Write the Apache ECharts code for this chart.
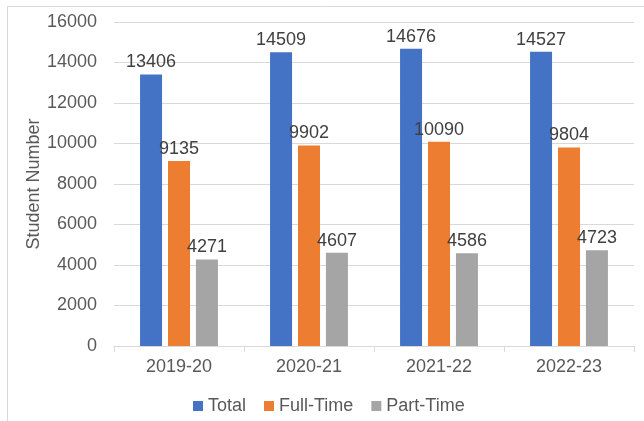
<!DOCTYPE html>
<html><head><meta charset="utf-8">
<script src="https://cdn.jsdelivr.net/npm/echarts@6/dist/echarts.min.js"></script>
<style>html,body{margin:0;padding:0;background:#fff}#c{width:644px;height:421px}</style>
</head><body><div id="c"></div>
<script>
const categories = ["2019-20", "2020-21", "2021-22", "2022-23"];
const totalValues = [13406, 14509, 14676, 14527];
const fullTimeValues = [9135, 9902, 10090, 9804];
const partTimeValues = [4271, 4607, 4586, 4723];
const seriesNames = ["Total", "Full-Time", "Part-Time"];
const yTicks = { min: 0, max: 16000, interval: 2000 };

const chart = echarts.init(document.getElementById('c'), null, { renderer: 'canvas' });
const font = 'Liberation Sans, Arial, sans-serif';
const txt = '#595959';
function mk(name, data, color) {
  return {
    name, type: 'bar', data, barWidth: 22, barGap: '27%',
    itemStyle: { color },
    label: { show: true, position: 'top', distance: 3, color: '#404040', fontSize: 18, fontFamily: font },
    emphasis: { disabled: true }
  };
}
chart.setOption({
  animation: false,
  textStyle: { fontFamily: font },
  graphic: [{
    type: 'polyline', silent: true,
    shape: { points: [[7.5, 421], [7.5, 6.5], [644, 6.5]] },
    style: { stroke: '#D9D9D9', lineWidth: 1, fill: null }
  }],
  grid: { left: 114, right: 10, top: 22, bottom: 75, containLabel: false },
  legend: {
    data: seriesNames, left: 188, top: 392, itemWidth: 10, itemHeight: 10, itemGap: 18,
    icon: 'rect', textStyle: { color: txt, fontSize: 18, fontFamily: font, padding: [0, 0, 0, 0] }
  },
  xAxis: {
    type: 'category', data: categories,
    axisLine: { lineStyle: { color: '#D9D9D9' } },
    axisTick: { show: true, length: 6, lineStyle: { color: '#D9D9D9' } },
    axisLabel: { color: txt, fontSize: 18, fontFamily: font, margin: 12 }
  },
  yAxis: {
    type: 'value', min: yTicks.min, max: yTicks.max, interval: yTicks.interval,
    name: 'Student Number', nameLocation: 'middle', nameGap: 71, nameRotate: 90,
    nameMoveOverlap: false,
    nameTextStyle: { color: txt, fontSize: 18, fontFamily: font },
    axisLine: { show: false }, axisTick: { show: false },
    axisLabel: { color: txt, fontSize: 18, fontFamily: font, margin: 17, formatter: v => String(v) },
    splitLine: { lineStyle: { color: '#D9D9D9' } }
  },
  series: [
    mk(seriesNames[0], totalValues, '#4472C4'),
    mk(seriesNames[1], fullTimeValues, '#ED7D31'),
    mk(seriesNames[2], partTimeValues, '#A5A5A5')
  ]
});
</script></body></html>
